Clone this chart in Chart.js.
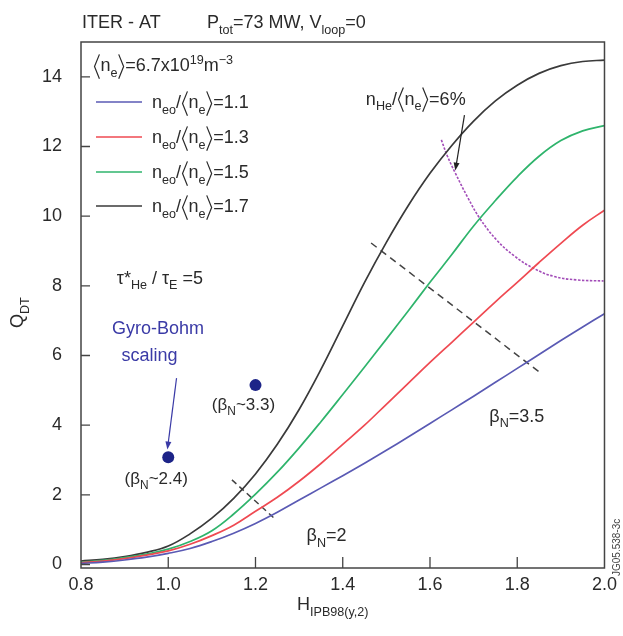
<!DOCTYPE html>
<html>
<head>
<meta charset="utf-8">
<script src="https://cdn.jsdelivr.net/npm/chart.js@4.4.0/dist/chart.umd.min.js"></script>
<style>
  html, body { margin: 0; padding: 0; background: #fff; }
</style>
</head>
<body>
<canvas id="qdt" width="623" height="636"></canvas>
<script>
// H factor grid and Q_DT curves for each peaking factor n_e0/<n_e>
const hGrid = [0.8, 0.85, 0.9, 0.95, 1.0, 1.05, 1.1, 1.15, 1.2, 1.25, 1.3, 1.35, 1.4,
               1.45, 1.5, 1.55, 1.6, 1.65, 1.7, 1.75, 1.8, 1.85, 1.9, 1.95, 2.0];
const q11 = [0.03, 0.07, 0.13, 0.21, 0.32, 0.46, 0.66, 0.9, 1.18, 1.5, 1.85, 2.2, 2.55,
             2.91, 3.28, 3.66, 4.05, 4.44, 4.83, 5.23, 5.63, 6.03, 6.43, 6.82, 7.2];
const q13 = [0.05, 0.1, 0.17, 0.27, 0.39, 0.58, 0.83, 1.13, 1.53, 1.93, 2.39, 2.9, 3.45,
             4.0, 4.6, 5.2, 5.8, 6.38, 6.96, 7.54, 8.1, 8.67, 9.22, 9.74, 10.17];
const q15 = [0.07, 0.12, 0.2, 0.3, 0.44, 0.66, 0.97, 1.45, 2.02, 2.65, 3.35, 4.1, 4.88,
             5.67, 6.47, 7.28, 8.1, 8.9, 9.72, 10.45, 11.13, 11.72, 12.17, 12.45, 12.6];
const q17 = [0.1, 0.15, 0.23, 0.35, 0.53, 0.88, 1.33, 1.9, 2.6, 3.45, 4.45, 5.6, 6.85,
             8.1, 9.25, 10.3, 11.23, 12.03, 12.73, 13.31, 13.76, 14.1, 14.32, 14.44, 14.48];
const peakLabels = ['1.1', '1.3', '1.5', '1.7'];

// beta_N = 2 and beta_N = 3.5 limit lines
const beta2H = [1.146, 1.242];
const beta2Q = [2.43, 1.34];
const beta35H = [1.465, 1.85];
const beta35Q = [9.23, 5.53];

// n_He/<n_e> = 6% contour
const heliumH = [1.626, 1.640, 1.658, 1.686, 1.715, 1.754, 1.793, 1.838, 1.884, 1.936, 1.998];
const heliumQ = [12.19, 11.72, 11.24, 10.55, 9.92, 9.3, 8.86, 8.5, 8.27, 8.17, 8.14];

// Gyro-Bohm scaling points
const gyroH = [1.0, 1.2];
const gyroQ = [3.08, 5.15];

const colors = ['#5a5ab4', '#ef4a52', '#2fb46c', '#3a3a3a'];
const FONT = '"Liberation Sans", Arial, Helvetica, sans-serif';

const pts = (xs, ys) => xs.map((x, i) => ({ x: x, y: ys[i] }));

// text with subscripts, superscripts and angle brackets; y = middle of the text
function rich(ctx, x, y, parts, size, color) {
  const base = y + size * 0.36;
  ctx.save();
  ctx.fillStyle = color;
  ctx.strokeStyle = color;
  ctx.textAlign = 'left';
  ctx.textBaseline = 'alphabetic';
  let cx = x;
  for (const [t, m = ''] of parts) {
    if (m === '<' || m === '>') {
      const w = size * 0.42, top = base - size * 0.95, bot = base + size * 0.4, mid = (top + bot) / 2;
      ctx.lineWidth = size / 15;
      ctx.beginPath();
      if (m === '<') {
        ctx.moveTo(cx + w * 0.85, top); ctx.lineTo(cx + w * 0.2, mid); ctx.lineTo(cx + w * 0.85, bot);
      } else {
        ctx.moveTo(cx + w * 0.15, top); ctx.lineTo(cx + w * 0.8, mid); ctx.lineTo(cx + w * 0.15, bot);
      }
      ctx.stroke();
      cx += w;
      continue;
    }
    const s = m ? size * 0.7 : size;
    ctx.font = s + 'px ' + FONT;
    const dy = m === 'b' ? size * 0.3 : (m === 'p' ? -size * 0.42 : 0);
    ctx.fillText(t, cx, base + dy);
    cx += ctx.measureText(t).width;
  }
  ctx.restore();
  return cx - x;
}

function arrow(ctx, x1, y1, x2, y2, color) {
  const a = Math.atan2(y2 - y1, x2 - x1);
  ctx.save();
  ctx.strokeStyle = color;
  ctx.fillStyle = color;
  ctx.lineWidth = 1.2;
  ctx.beginPath();
  ctx.moveTo(x1, y1);
  ctx.lineTo(x2 - 5 * Math.cos(a), y2 - 5 * Math.sin(a));
  ctx.stroke();
  ctx.beginPath();
  ctx.moveTo(x2, y2);
  ctx.lineTo(x2 - 8 * Math.cos(a) + 3 * Math.sin(a), y2 - 8 * Math.sin(a) - 3 * Math.cos(a));
  ctx.lineTo(x2 - 8 * Math.cos(a) - 3 * Math.sin(a), y2 - 8 * Math.sin(a) + 3 * Math.cos(a));
  ctx.closePath();
  ctx.fill();
  ctx.restore();
}

const decor = {
  id: 'decor',
  afterDraw(chart) {
    const ctx = chart.ctx;
    const a = chart.chartArea;
    const sx = chart.scales.x, sy = chart.scales.y;
    const X = v => sx.getPixelForValue(v);
    const Y = v => sy.getPixelForValue(v);
    const txt = '#2a2a2a';

    // frame
    ctx.save();
    ctx.strokeStyle = '#444';
    ctx.lineWidth = 1.5;
    ctx.strokeRect(a.left, a.top, a.right - a.left, a.bottom - a.top);
    // inward ticks
    ctx.lineWidth = 1.3;
    ctx.beginPath();
    sx.ticks.forEach(t => {
      const px = X(t.value);
      if (px <= a.left + 1 || px >= a.right - 1) return;
      ctx.moveTo(px, a.bottom); ctx.lineTo(px, a.bottom - 11);
    });
    sy.ticks.forEach(t => {
      const py = Y(t.value);
      ctx.moveTo(a.left, py); ctx.lineTo(a.left + 9, py);
    });
    ctx.stroke();
    ctx.restore();

    // title
    rich(ctx, 82, 22, [['ITER - AT']], 18, txt);
    rich(ctx, 207, 22, [['P'], ['tot', 'b'], ['=73 MW, V'], ['loop', 'b'], ['=0']], 18, txt);

    // axis titles
    rich(ctx, 297, 604, [['H'], ['IPB98(y,2)', 'b']], 18, txt);
    ctx.save();
    ctx.translate(17, 328);
    ctx.rotate(-Math.PI / 2);
    rich(ctx, 0, 0, [['Q'], ['DT', 'b']], 18, txt);
    ctx.restore();
    ctx.save();
    ctx.translate(617, 576);
    ctx.rotate(-Math.PI / 2);
    ctx.fillStyle = '#444';
    ctx.font = '10px ' + FONT;
    ctx.textBaseline = 'middle';
    ctx.fillText('JG05.538-3c', 0, 0);
    ctx.restore();

    // legend
    rich(ctx, 93, 65, [['', '<'], ['n'], ['e', 'b'], ['', '>'], ['=6.7x10'], ['19', 'p'], ['m'], ['\u22123', 'p']], 18, txt);
    const legY = [102, 137, 172, 206];
    peakLabels.forEach((lab, i) => {
      ctx.save();
      ctx.strokeStyle = colors[i];
      ctx.lineWidth = 1.7;
      ctx.beginPath();
      ctx.moveTo(96, legY[i]); ctx.lineTo(142, legY[i]);
      ctx.stroke();
      ctx.restore();
      rich(ctx, 152, legY[i], [['n'], ['eo', 'b'], ['/'], ['', '<'], ['n'], ['e', 'b'], ['', '>'], ['=' + lab]], 18, txt);
    });

    // annotations
    rich(ctx, X(0.882), Y(8.25), [['\u03c4*'], ['He', 'b'], [' / \u03c4'], ['E', 'b'], [' =5']], 18, txt);
    rich(ctx, X(1.453), Y(13.39), [['n'], ['He', 'b'], ['/'], ['', '<'], ['n'], ['e', 'b'], ['', '>'], ['=6%']], 18, txt);
    arrow(ctx, X(1.679), Y(12.9), X(1.658), Y(11.31), '#222');

    const gb = '#3a3aa6';
    rich(ctx, X(0.871), Y(6.79), [['Gyro-Bohm']], 18, gb);
    rich(ctx, X(0.893), Y(6.04), [['scaling']], 18, gb);
    arrow(ctx, X(1.019), Y(5.35), X(0.998), Y(3.3), gb);

    rich(ctx, X(0.900), Y(2.48), [['(\u03b2'], ['N', 'b'], ['~2.4)']], 17, txt);
    rich(ctx, X(1.100), Y(4.61), [['(\u03b2'], ['N', 'b'], ['~3.3)']], 17, txt);
    rich(ctx, X(1.317), Y(0.85), [['\u03b2'], ['N', 'b'], ['=2']], 18, txt);
    rich(ctx, X(1.736), Y(4.29), [['\u03b2'], ['N', 'b'], ['=3.5']], 18, txt);
  }
};

const curveSets = [q11, q13, q15, q17].map((q, i) => ({
  label: peakLabels[i],
  data: pts(hGrid, q),
  borderColor: colors[i],
  borderWidth: 1.7,
  pointRadius: 0,
  tension: 0.4,
  fill: false
}));

new Chart(document.getElementById('qdt').getContext('2d'), {
  type: 'line',
  data: {
    datasets: [
      ...curveSets,
      { label: 'beta2', data: pts(beta2H, beta2Q), borderColor: '#444', borderWidth: 1.5,
        borderDash: [6, 4], pointRadius: 0 },
      { label: 'beta35', data: pts(beta35H, beta35Q), borderColor: '#444', borderWidth: 1.5,
        borderDash: [7, 5], pointRadius: 0 },
      { label: 'helium', data: pts(heliumH, heliumQ), borderColor: '#a24cb8', borderWidth: 1.6,
        borderDash: [2.5, 1.5], pointRadius: 0, tension: 0.4 },
      { label: 'gyro', data: pts(gyroH, gyroQ), showLine: false, pointRadius: 6,
        pointBackgroundColor: '#1d2488', pointBorderColor: '#1d2488', borderWidth: 0 }
    ]
  },
  options: {
    responsive: false,
    animation: false,
    layout: { padding: { top: 42, right: 15, left: 0, bottom: 0 } },
    plugins: { legend: { display: false }, tooltip: { enabled: false } },
    scales: {
      x: {
        type: 'linear',
        min: 0.8,
        max: 2.0,
        afterFit: s => { s.height = 68; },
        grid: { display: true, drawOnChartArea: false, drawTicks: false },
        border: { display: false },
        ticks: {
          stepSize: 0.2,
          padding: 6,
          color: '#2a2a2a',
          font: { family: FONT, size: 18 },
          callback: v => v.toFixed(1)
        }
      },
      y: {
        min: -0.1,
        max: 15,
        afterFit: s => { s.width = 81; },
        grid: { display: true, drawOnChartArea: false, drawTicks: false },
        border: { display: false },
        ticks: {
          stepSize: 2,
          includeBounds: false,
          padding: 19,
          color: '#2a2a2a',
          font: { family: FONT, size: 18 },
          callback: v => (Math.abs(v % 2) < 1e-6 ? String(Math.round(v)) : '')
        }
      }
    }
  },
  plugins: [decor]
});
</script>
</body>
</html>
